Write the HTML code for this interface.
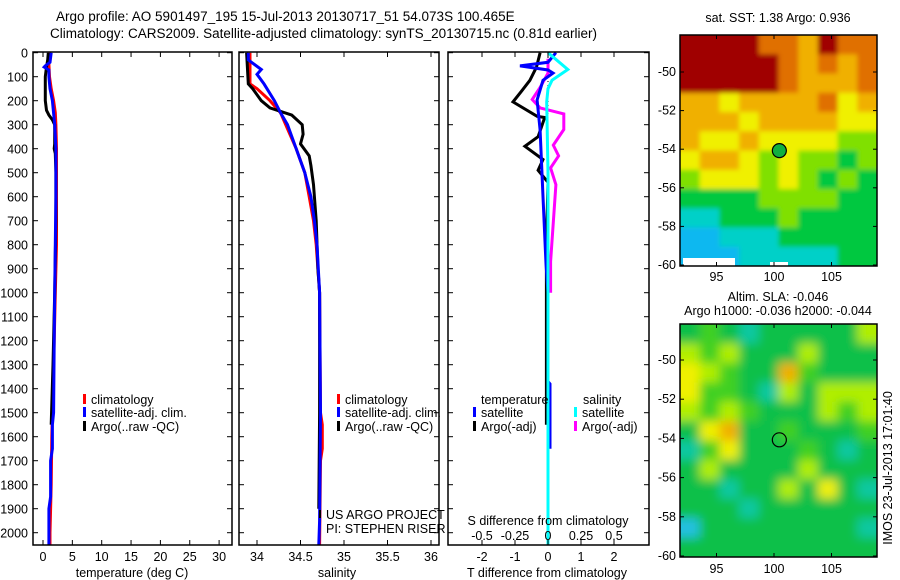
<!DOCTYPE html>
<html><head><meta charset="utf-8"><style>
body{margin:0;background:#fff;}
svg{display:block;font-family:"Liberation Sans",sans-serif;}
text{font-size:12.5px;fill:#000;}
</style></head><body>
<svg id="c" width="900" height="580" viewBox="0 0 900 580" xmlns="http://www.w3.org/2000/svg">
<defs>
<clipPath id="clip1"><rect x="680" y="35" width="197" height="231"/></clipPath>
<clipPath id="clip2"><rect x="680" y="324" width="197" height="233"/></clipPath>
<filter id="blur1" x="-5%" y="-5%" width="110%" height="110%"><feGaussianBlur stdDeviation="2.5"/></filter>
<filter id="blur2" x="-5%" y="-5%" width="110%" height="110%"><feGaussianBlur stdDeviation="5"/></filter>
</defs>
<text x="56" y="21" style="font-size:13.5px">Argo profile: AO 5901497_195 15-Jul-2013 20130717_51 54.073S 100.465E</text>
<text x="50" y="38" style="font-size:13.5px">Climatology: CARS2009. Satellite-adjusted climatology: synTS_20130715.nc (0.81d earlier)</text>
<text x="778" y="22" text-anchor="middle">sat. SST: 1.38 Argo: 0.936</text>
<text x="778" y="301" text-anchor="middle">Altim. SLA: -0.046</text>
<text x="778" y="315" text-anchor="middle">Argo h1000: -0.036 h2000: -0.044</text>
<text transform="translate(892,468) rotate(-90)" text-anchor="middle">IMOS 23-Jul-2013 17:01:40</text>
<g id="m1" clip-path="url(#clip1)"><g id="h1" filter="url(#blur1)"></g></g>
<g id="m2" clip-path="url(#clip2)"><g id="h2" filter="url(#blur2)"></g></g>
<g id="g"></g>
</svg>
<script>
// ---- data ----
const tClimDepth=[0,50,100,150,200,250,300,400,500,600,700,800,1000,1200,1400,1600,1800,2000,2050];
const tClimVal=[1.1,1.0,1.1,1.4,1.8,2.1,2.2,2.3,2.3,2.3,2.3,2.3,2.1,1.9,1.7,1.5,1.4,1.2,1.2];
const tSatDepth=[0,40,55,60,72,100,150,200,300,400,600,800,1000,1200,1500,1550,1650,1700,1850,1900,2050];
const tSatVal=[1.4,1.2,0.4,0.2,1.0,1.0,1.2,1.6,2.0,2.2,2.2,2.1,2.0,1.9,1.8,1.6,1.6,1.3,1.3,1.0,1.0];
const tArgoDepth=[0,30,60,100,200,240,260,280,300,380,400,420,500,700,1000,1300,1550];
const tArgoVal=[0.9,0.8,0.6,0.4,0.4,0.6,1.0,1.6,2.0,2.0,1.9,2.1,2.2,2.2,2.0,1.7,1.4];
const sClimDepth=[0,130,150,200,250,300,400,500,600,700,800,1000,1500,1550,1650,1700,2050];
const sClimVal=[33.92,33.92,34.0,34.15,34.27,34.33,34.45,34.55,34.6,34.65,34.68,34.72,34.73,34.75,34.75,34.73,34.72];
const sSatDepth=[0,30,70,90,130,200,250,300,400,500,600,700,800,1000,1500,1950,2050];
const sSatVal=[33.9,33.9,34.05,34.0,34.08,34.2,34.27,34.35,34.45,34.55,34.62,34.66,34.69,34.72,34.73,34.72,34.71];
const sArgoDepth=[0,130,150,200,230,260,300,340,380,430,470,550,700,900,1000,1500,1900];
const sArgoVal=[33.88,33.9,33.95,34.05,34.15,34.4,34.52,34.53,34.5,34.6,34.62,34.65,34.68,34.7,34.72,34.72,34.71];
const dtSatDepth=[0,40,55,72,85,115,197,322,600,880,1000,1370,1380,1650];
const dtSatVal=[0.24,0.0,-0.85,0.0,0.15,-0.15,-0.33,-0.24,-0.15,-0.06,0.0,0.0,0.06,0.06];
const dtArgoDepth=[0,60,115,160,205,265,270,350,390,445,490,540,800,1200,1550];
const dtArgoVal=[-0.24,-0.35,-0.55,-0.8,-1.06,-0.33,-0.1,-0.3,-0.7,-0.15,-0.3,0.0,-0.05,-0.05,-0.05];
const dsSatDepth=[0,70,115,150,205,500,1000,1500,2050];
const dsSatVal=[0.0,0.15,0.03,0.0,-0.01,0.0,0.0,0.0,0.0];
const dsArgoDepth=[25,85,145,195,230,255,320,385,430,480,550,870,1000];
const dsArgoVal=[0.0,0.0,-0.06,-0.12,-0.06,0.12,0.12,0.04,0.08,0.02,0.06,0.02,0.02];
const depthTicks=[0,100,200,300,400,500,600,700,800,900,1000,1100,1200,1300,1400,1500,1600,1700,1800,1900,2000];
const tTicks=[0,5,10,15,20,25,30];
const sTicks=[34,34.5,35,35.5,36];
const dtTicks=[-2,-1,0,1,2];
const dsTicks=[-0.5,-0.25,0,0.25,0.5];
const dsTickLabels=["-0.5","-0.25","0","0.25","0.5"];
const latTicks=[-50,-52,-54,-56,-58,-60];
const lonTicks=[95,100,105];
const sstGrid=[
[7,7,7,7,6,6,5,7,6,6],[7,7,7,7,7,6,5,6,5,6],[7,7,7,7,7,6,5,5,5,6],
[5,5,4,5,5,5,5,6,4,5],[5,5,5,4,5,5,5,5,4,4],[5,4,4,5,4,4,4,4,3,3],
[4,5,5,4,3,4,3,3,2,3],[3,4,4,4,3,4,3,2,3,2],[2,2,2,2,3,3,3,3,2,2],
[1,1,2,2,2,3,2,2,2,2],[0,0,1,1,1,2,2,2,2,2],[0,0,0,1,1,1,1,1,2,2]];
const slaGrid=[
[2,3,2,1,2,2,2,2,2,4],[4,3,4,2,2,2,4,2,2,2],[5,4,3,2,2,6,3,2,2,2],
[5,3,3,2,1,4,2,4,4,4],[4,3,4,3,2,2,2,4,3,4],[2,5,6,2,2,3,2,2,2,3],
[1,3,5,2,2,2,3,2,1,2],[2,4,2,2,2,2,4,2,2,2],[2,2,1,2,2,4,2,5,2,1],
[2,2,2,1,2,2,2,2,2,2],[0,2,2,2,2,2,2,2,2,1],[2,2,2,2,2,2,2,2,2,2]];
const argoLat=-54.073, argoLon=100.465;
// ---- scales ----
const yD=d=>52.7+0.24*d;
const xT=t=>43+5.87*t;
const xS=s=>257+87*(s-34);
const xDT=t=>548+33*t;
const xDS=s=>548+132*s;
const lonX=l=>774+11.5*(l-100);
const lat1Y=a=>72+19.3*(-50-a);
const lat2Y=a=>360+19.6*(-50-a);
const NS='http://www.w3.org/2000/svg';
const G=document.getElementById('g');
function mk(tag,at,parent){const e=document.createElementNS(NS,tag);for(const k in at)e.setAttribute(k,at[k]);(parent||G).appendChild(e);return e;}
function txt(x,y,s,anchor){const e=mk('text',{x:x,y:y,'text-anchor':anchor||'start'});e.textContent=s;return e;}
function line(dep,val,fx,color,name){
  const pts=dep.map((d,i)=>fx(val[i]).toFixed(1)+','+yD(d).toFixed(1)).join(' ');
  const p=mk('polyline',{points:pts,fill:'none',stroke:color,'stroke-width':3});
  
  
}
const panels=[[33,232],[239,439],[448,649]];
// maps first
const sstCol=['#10b8f0','#00d0c8','#00c840','#80e000','#f0f000','#f0b000','#e07000','#a00000'];
const slaCol=['#20c0e0','#10c8a0','#10c048','#40d020','#b0ee00','#f0f000','#f0b000'];
function heat(grid,cols,x0,y0,w,h,name,parent){
  const nr=grid.length,nc=grid[0].length,cw=w/nc,ch=h/nr;
  mk('rect',{x:x0-10,y:y0-10,width:w+20,height:h+20,fill:cols[2]},parent);
  grid.forEach((row,r)=>row.forEach((v,c)=>{
    const e=mk('rect',{x:x0+c*cw-(c==0?10:0),y:y0+r*ch-(r==0?10:0),width:cw+0.5+(c==0||c==nc-1?10:0),height:ch+0.5+(r==0||r==nr-1?10:0),fill:cols[v]},parent);
    
    
  }));
}
heat(sstGrid,sstCol,680,35,197,231,'sst-map',document.getElementById('h1'));
mk('rect',{x:683,y:258,width:52,height:8,fill:'#fff'});
mk('rect',{x:770,y:262,width:18,height:4,fill:'#fff'});
heat(slaGrid,slaCol,680,324,197,233,'sla-map',document.getElementById('h2'));
const c1=mk('circle',{cx:lonX(argoLon),cy:lat1Y(argoLat),r:7,fill:'#10b040',stroke:'#000','stroke-width':1.2});


const c2=mk('circle',{cx:lonX(argoLon),cy:lat2Y(argoLat),r:7,fill:'none',stroke:'#000','stroke-width':1.2});


[[35,266,lat1Y,281],[324,557,lat2Y,573]].forEach(([t,b,fy,ly])=>{
  const fr=mk('rect',{x:680,y:t,width:197,height:b-t,fill:'none',stroke:'#000','stroke-width':1.5});
  
  
  latTicks.forEach(a=>{const y=fy(a);mk('line',{x1:680,x2:684,y1:y,y2:y,stroke:'#000'});mk('line',{x1:873,x2:877,y1:y,y2:y,stroke:'#000'});txt(676,y+4,String(a),'end');});
  lonTicks.forEach(l=>{const x=lonX(l);mk('line',{x1:x,x2:x,y1:b,y2:b-4,stroke:'#000'});mk('line',{x1:x,x2:x,y1:t,y2:t+4,stroke:'#000'});txt(x,ly,String(l),'middle');});
});
// zero dotted line
mk('line',{x1:548,x2:548,y1:53,y2:250,stroke:'#000','stroke-dasharray':'1,3'});
// series
line(tClimDepth,tClimVal,xT,'#f00','temp-climatology-line');
line(tArgoDepth,tArgoVal,xT,'#000','temp-argo-line');
line(tSatDepth,tSatVal,xT,'#00f','temp-satellite-line');
line(sClimDepth,sClimVal,xS,'#f00','sal-climatology-line');
line(sArgoDepth,sArgoVal,xS,'#000','sal-argo-line');
line(sSatDepth,sSatVal,xS,'#00f','sal-satellite-line');
line(dtArgoDepth,dtArgoVal,xDT,'#000','tdiff-argo-line');
line(dsArgoDepth,dsArgoVal,xDS,'#f0f','sdiff-argo-line');
line(dtSatDepth,dtSatVal,xDT,'#00f','tdiff-satellite-line');
line(dsSatDepth,dsSatVal,xDS,'#0ff','sdiff-satellite-line');
// panel frames & ticks
panels.forEach(([l,r],i)=>{
  const f=mk('rect',{x:l,y:52,width:r-l,height:493,fill:'none',stroke:'#000','stroke-width':1.5});
  
  
  depthTicks.forEach(d=>{const y=yD(d);mk('line',{x1:l,x2:l+5,y1:y,y2:y,stroke:'#000'});mk('line',{x1:r-5,x2:r,y1:y,y2:y,stroke:'#000'});});
});
depthTicks.forEach(d=>txt(28,yD(d)+5,String(d),'end'));
tTicks.forEach(t=>{const x=xT(t);mk('line',{x1:x,x2:x,y1:545,y2:540,stroke:'#000'});mk('line',{x1:x,x2:x,y1:52,y2:57,stroke:'#000'});txt(x,561,String(t),'middle');});
sTicks.forEach(s=>{const x=xS(s);mk('line',{x1:x,x2:x,y1:545,y2:540,stroke:'#000'});mk('line',{x1:x,x2:x,y1:52,y2:57,stroke:'#000'});txt(x,561,String(s),'middle');});
dtTicks.forEach(t=>{const x=xDT(t);mk('line',{x1:x,x2:x,y1:545,y2:540,stroke:'#000'});mk('line',{x1:x,x2:x,y1:52,y2:57,stroke:'#000'});txt(x,561,String(t),'middle');});
dsTicks.forEach((s,i)=>txt(xDS(s),540,dsTickLabels[i],'middle'));
txt(132,577,'temperature (deg C)','middle');
txt(337,577,'salinity','middle');
txt(547,577,'T difference from climatology','middle');
txt(548,525,'S difference from climatology','middle');
txt(326,519,'US ARGO PROJECT');
txt(326,533,'PI: STEPHEN RISER');
mk('rect',{x:319,y:510,width:2,height:8,fill:'#000'});
// legends
function leg(x,y,color,label){const b=mk('rect',{x:x,y:y-10,width:3,height:10,fill:color});txt(x+8,y,label);}
[[83],[337]].forEach(([x])=>{leg(x,404,'#f00','climatology');leg(x,417,'#00f','satellite-adj. clim.');leg(x,431,'#000','Argo(..raw -QC)');});
txt(481,404,'temperature');leg(473,417,'#00f','satellite');leg(473,431,'#000','Argo(-adj)');
txt(583,404,'salinity');leg(574,417,'#0ff','satellite');leg(574,431,'#f0f','Argo(-adj)');
</script>
</body></html>
